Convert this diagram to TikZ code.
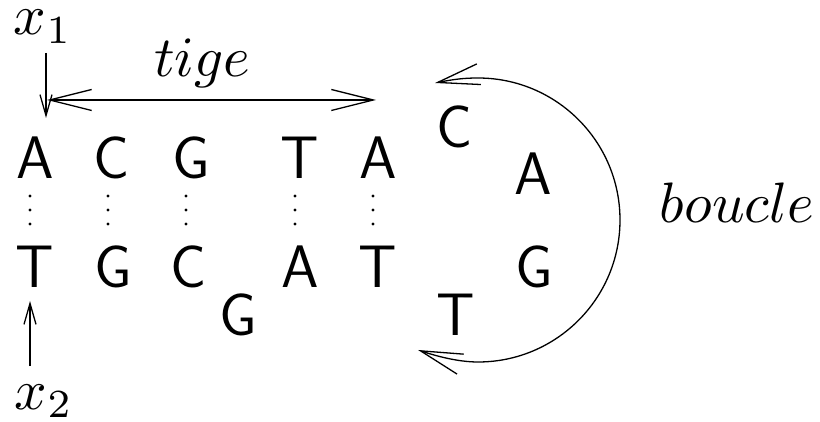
\documentclass[tikz,border=0pt]{standalone}
\usetikzlibrary{arrows.meta}
\begin{document}
\begin{tikzpicture}[x=1pt,y=1pt,
  basept/.style={inner sep=0pt, outer sep=0pt, anchor=base},
  nuc/.style={basept, font=\fontsize{60}{72}\selectfont\sffamily},
  lab/.style={basept, font=\fontsize{10}{12}\selectfont, scale=5.7},
  thinline/.style={line width=1.3pt},
  pairdots/.style={line width=3.2pt, line cap=round, dash pattern=on 0pt off 14pt},
  bigbarb/.tip={Straight Barb[length=42pt,width=21pt]},
  smallbarb/.tip={Straight Barb[length=21pt,width=12pt]}
]
\useasboundingbox (0,0) rectangle (820,-422);

% top strand
\node[nuc] (a1) at (35,-179) {A};
\node[nuc] (c1) at (112,-179) {C};
\node[nuc] (g1) at (191,-179) {G};
\node[nuc] (t1) at (300,-179) {T};
\node[nuc] (a2) at (378,-179) {A};
% bottom strand
\node[nuc] (t2) at (35,-288) {T};
\node[nuc] (g2) at (113,-288) {G};
\node[nuc] (c2) at (189,-288) {C};
\node[nuc] (g3) at (238,-335) {G};
\node[nuc] (a3) at (300,-288) {A};
\node[nuc] (t3) at (378,-288) {T};
% loop
\node[nuc] (c3) at (455,-148) {C};
\node[nuc] (a4) at (533,-195) {A};
\node[nuc] (g4) at (534,-288) {G};
\node[nuc] (t4) at (456,-335) {T};

% labels
\node[lab] (x1) at (43,-35) {$x_1$};
\node[lab] (x2) at (44,-409) {$x_2$};
\node[lab] (tige) at (202,-77) {$tige$};
\node[lab] (boucle) at (737,-223) {$boucle$};

% pairing dots
\foreach \n/\x in {p1/30,p2/108,p3/186,p4/295,p5/373}{
  \coordinate (\n u) at (\x,-196);
  \coordinate (\n d) at (\x,-224.05);
  \draw[pairdots] (\n u) -- (\n d);
}

% x1 and x2 arrows
\coordinate (x1s) at (46,-53);
\coordinate (x1e) at (46,-118);
\coordinate (x2s) at (30,-366);
\coordinate (x2e) at (30,-301);
\draw[thinline,-smallbarb] (x1s) -- (x1e);
\draw[thinline,-smallbarb] (x2s) -- (x2e);

% tige arrow
\coordinate (tl) at (47,-100);
\coordinate (tr) at (376,-100);
\draw[thinline,bigbarb-bigbarb] (tl) -- (tr);

% boucle arc
\coordinate (lt) at (435,-83);
\coordinate (ltop) at (478,-78);
\coordinate (lbot) at (478,-362);
\coordinate (lb) at (418,-350);
\draw[thinline,bigbarb-bigbarb] (lt) .. controls (455,-79) and (465,-78) .. (ltop)
  arc[start angle=90, end angle=-90, radius=142]
  .. controls (458,-362) and (436,-356) .. (lb);
\end{tikzpicture}
\end{document}
